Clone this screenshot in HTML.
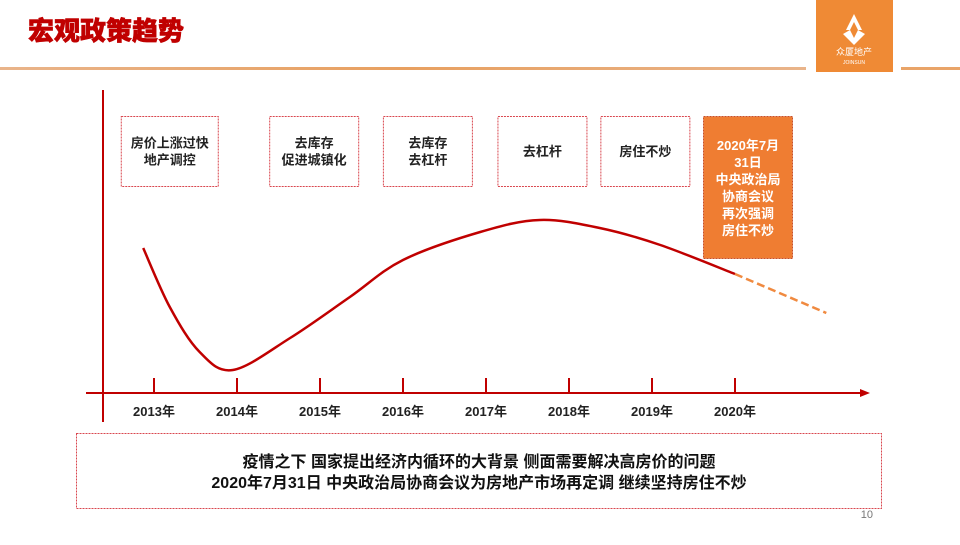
<!DOCTYPE html>
<html><head><meta charset="utf-8"><style>
body{margin:0;width:960px;height:540px;overflow:hidden;background:#fff;font-family:"Liberation Sans","Noto Sans CJK SC",sans-serif}
svg text{font-family:"Liberation Sans","Noto Sans CJK SC",sans-serif}
</style></head><body>
<svg width="960" height="540" viewBox="0 0 960 540">
<defs><linearGradient id="hl" x1="0" x2="1"><stop offset="0" stop-color="#e9b48a"/><stop offset="0.5" stop-color="#e8a060"/><stop offset="1" stop-color="#e9b48a"/></linearGradient></defs>
<text x="28" y="40" font-size="26" font-weight="900" fill="#c00000" stroke="#c00000" stroke-width="0.6">宏观政策趋势</text>
<rect x="0" y="67" width="806" height="3" fill="url(#hl)"/>
<rect x="901" y="67" width="59" height="3" fill="#e9a468"/>
<g>
<rect x="816" y="0" width="77" height="72" fill="#ef8a35"/>
<path d="M854 14 L846 30 L850 30 L854 22 L858 30 L862 30 Z M843 34 L850 30 L854 38 L858 30 L865 34 L854 45 Z" fill="#fff"/>
<text x="854" y="55" font-size="9" fill="#fff" text-anchor="middle">众厦地产</text>
<text x="854" y="64" font-size="5" fill="#fff" text-anchor="middle">JOINSUN</text>
</g>
<g id="chart"></g>
<rect x="76.5" y="433.5" width="805" height="75" fill="none" stroke="#d9474f" stroke-width="1" stroke-dasharray="2,1"/>
<text x="479" y="467" font-size="16" font-weight="bold" text-anchor="middle" fill="#111">疫情之下 国家提出经济内循环的大背景 侧面需要解决高房价的问题</text>
<text x="479" y="488" font-size="16" font-weight="bold" text-anchor="middle" fill="#111">2020年7月31日 中央政治局协商会议为房地产市场再定调 继续坚持房住不炒</text>
<text x="873" y="518" font-size="11" fill="#777" text-anchor="end">10</text>
</svg>
<script>
const years=[2013,2014,2015,2016,2017,2018,2019,2020];
const trendX=[2012.87,2013.19,2013.55,2013.95,2014.64,2015.36,2016,2016.93,2017.65,2018.37,2019.1,2020];
const trendV=[145,86,41,23,55,96,133,161,173,165,148,119];
const forecastX=[2020,2021.1];
const forecastV=[119,80];
const boxLabels=[["房价上涨过快","地产调控"],["去库存","促进城镇化"],["去库存","去杠杆"],["去杠杆"],["房住不炒"]];
const boxYears=[2013.19,2014.93,2016.3,2017.68,2018.92];
const NS="http://www.w3.org/2000/svg";
const g=document.getElementById('chart');
const X=y=>154+(y-2013)*83;
const Y=v=>393-v;
function el(t,a,p){const e=document.createElementNS(NS,t);for(const k in a)e.setAttribute(k,a[k]);(p||g).appendChild(e);return e;}
let ax=el('line',{x1:103,y1:90,x2:103,y2:422,stroke:'#c00000','stroke-width':2});


let xa=el('line',{x1:86,y1:393,x2:862,y2:393,stroke:'#c00000','stroke-width':2});


let ar=el('path',{d:'M860 389 L870 393 L860 397 Z',fill:'#c00000'});


years.forEach(yr=>{
 let t=el('line',{x1:X(yr),y1:378,x2:X(yr),y2:393,stroke:'#c00000','stroke-width':2});
 
 
 let l=el('text',{x:X(yr),y:416,'font-size':13,'font-weight':'bold','text-anchor':'middle',fill:'#222'});
 l.textContent=yr+'年';
 
 
});
function smooth(px,py){
 let d='M'+px[0]+' '+py[0];
 for(let i=0;i<px.length-1;i++){
  const i0=Math.max(0,i-1),i3=Math.min(px.length-1,i+2);
  const c1x=px[i]+(px[i+1]-px[i0])/6,c1y=py[i]+(py[i+1]-py[i0])/6;
  const c2x=px[i+1]-(px[i3]-px[i])/6,c2y=py[i+1]-(py[i3]-py[i])/6;
  d+=` C${c1x} ${c1y} ${c2x} ${c2y} ${px[i+1]} ${py[i+1]}`;
 }return d;}
let c=el('path',{d:smooth(trendX.map(X),trendV.map(Y)),fill:'none',stroke:'#c00000','stroke-width':2.5});


let f=el('path',{d:'M'+X(forecastX[0])+' '+Y(forecastV[0])+' L'+X(forecastX[1])+' '+Y(forecastV[1]),fill:'none',stroke:'#f08a40','stroke-width':2.5,'stroke-dasharray':'8,4'});


boxLabels.forEach((lines,i)=>{
 const cx=X(boxYears[i]);
 const w=i===0?97:89;
 let b=el('rect',{x:cx-w/2,y:116.5,width:w,height:70,fill:'#fff',stroke:'#d9474f','stroke-width':1,'stroke-dasharray':'2,1'});
 
 
 lines.forEach((s,j)=>{
  let t=el('text',{x:cx,y:156+(j-(lines.length-1)/2)*17,'font-size':13,'font-weight':'bold','text-anchor':'middle',fill:'#222'});
  t.textContent=s;
  
  
 });
});
let ob=el('rect',{x:703.5,y:116.5,width:89,height:142,fill:'#ef7d32',stroke:'#c8502a','stroke-width':1,'stroke-dasharray':'2,1'});


["2020年7月","31日","中央政治局","协商会议","再次强调","房住不炒"].forEach((s,j)=>{
 let t=el('text',{x:748,y:150+j*17,'font-size':13,'font-weight':'bold','text-anchor':'middle',fill:'#fff'});
 t.textContent=s;
 
 
});
</script>
</body></html>
